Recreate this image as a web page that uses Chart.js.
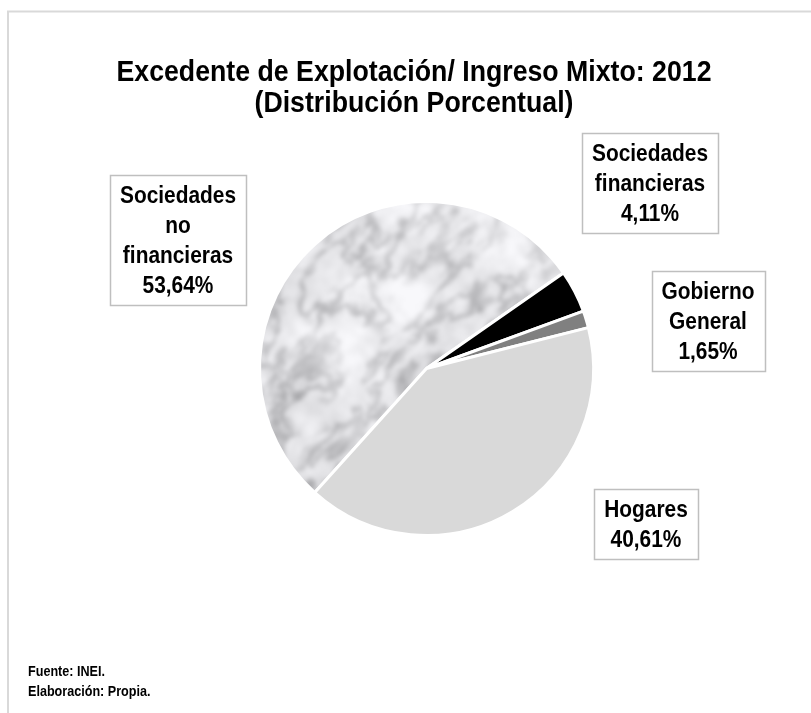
<!DOCTYPE html>
<html>
<head>
<meta charset="utf-8">
<script src="https://cdn.jsdelivr.net/npm/chart.js@4.4.1/dist/chart.umd.min.js"></script>
<style>
  html, body { margin: 0; padding: 0; background: #ffffff; }
  #chart { display: block; }
</style>
</head>
<body>
<canvas id="chart" width="811" height="713"></canvas>
<script>
// Excedente de Explotación / Ingreso Mixto 2012 - pie chart with boxed labels

const titleLines = ['Excedente de Explotación/ Ingreso Mixto: 2012', '(Distribución Porcentual)'];
const categories = ['Sociedades no financieras', 'Sociedades financieras', 'Gobierno General', 'Hogares'];
const labelLines = [['Sociedades', 'no', 'financieras'], ['Sociedades', 'financieras'], ['Gobierno', 'General'], ['Hogares']];
const shares = [53.64, 4.11, 1.65, 40.61];
const footerLines = ['Fuente: INEI.', 'Elaboración: Propia.'];

// label box centres (layout only, like manually placed Excel data labels)
const labelBoxes = [
  { x: 178, y: 240 },
  { x: 650, y: 183 },
  { x: 708, y: 321 },
  { x: 646, y: 524 }
];

const FONT = '"Liberation Sans", Arial, sans-serif';

// deterministic hash based value noise for the marble fill
function hash2(ix, iy) {
  let h = (Math.imul(ix, 374761393) + Math.imul(iy, 668265263)) | 0;
  h = Math.imul(h ^ (h >>> 13), 1274126177);
  h ^= h >>> 16;
  return (h >>> 0) / 4294967296;
}

function noise(x, y) {
  const ix = Math.floor(x), iy = Math.floor(y);
  const fx = x - ix, fy = y - iy;
  const ux = fx * fx * (3 - 2 * fx), uy = fy * fy * (3 - 2 * fy);
  const a = hash2(ix, iy), b = hash2(ix + 1, iy);
  const c = hash2(ix, iy + 1), d = hash2(ix + 1, iy + 1);
  return a + (b - a) * ux + (c - a) * uy + (a - b - c + d) * ux * uy;
}

function fbm(x, y, oct) {
  let sum = 0, amp = 0.5, norm = 0, f = 1;
  for (let i = 0; i < oct; i++) {
    sum += amp * noise(x * f, y * f);
    norm += amp;
    amp *= 0.55;
    f *= 2.03;
  }
  return sum / norm;
}

function makeMarble(w, h) {
  const c = document.createElement('canvas');
  c.width = w; c.height = h;
  const g = c.getContext('2d');
  const img = g.createImageData(w, h);
  const px = img.data;
  for (let y = 0; y < h; y++) {
    for (let x = 0; x < w; x++) {
      const i = (y * w + x) * 4;
      if (x < 240 || x > 615 || y < 180 || y > 560) {
        px[i] = px[i + 1] = px[i + 2] = 225; px[i + 3] = 255;
        continue;
      }
      // mottled grey network, slightly stretched along the diagonal
      const a = (x - y) * 0.7071, b = (x + y) * 0.7071;
      const wx = fbm(a * 0.02 + 3.1, b * 0.03 + 7.7, 3);
      const wy = fbm(a * 0.02 + 11.3, b * 0.03 + 1.9, 3);
      const t = fbm(a * 0.03 + wx * 1.6, b * 0.05 + wy * 1.6, 4);
      const vein = Math.abs(t - 0.5);
      let dark = Math.max(0, 1 - vein / 0.16);
      dark = dark * dark;
      const blot = fbm(x * 0.02 + 50, y * 0.02 + 20, 4);
      const fine = fbm(x * 0.1 + 9, y * 0.1 + 4, 3);
      let v = 234 - 60 * dark * (0.3 + blot) - 45 * (blot - 0.5) - 26 * (fine - 0.5);
      v = Math.max(150, Math.min(248, v));
      px[i] = v; px[i + 1] = v; px[i + 2] = Math.min(255, v + 3); px[i + 3] = 255;
    }
  }
  g.putImageData(img, 0, 0);
  // soften it, the reference texture is a blurry photo
  const c2 = document.createElement('canvas');
  c2.width = w; c2.height = h;
  const g2 = c2.getContext('2d');
  g2.filter = 'blur(2px)';
  g2.drawImage(c, 0, 0);
  return g2.createPattern(c2, 'no-repeat');
}

function narrowText(ctx, text, x, y, size, scaleX) {
  ctx.save();
  ctx.translate(x, y);
  ctx.scale(scaleX, 1);
  ctx.font = 'bold ' + size + 'px ' + FONT;
  ctx.fillText(text, 0, 0);
  ctx.restore();
}

function narrowWidth(ctx, text, size, scaleX) {
  ctx.save();
  ctx.font = 'bold ' + size + 'px ' + FONT;
  const w = ctx.measureText(text).width * scaleX;
  ctx.restore();
  return w;
}

function pct(v) {
  return v.toFixed(2).replace('.', ',') + '%';
}

const decorPlugin = {
  id: 'decor',
  beforeDraw(chart) {
    const ctx = chart.ctx;
    ctx.save();
    ctx.fillStyle = '#ffffff';
    ctx.fillRect(0, 0, chart.width, chart.height);
    // outer frame, only left and top edges fall inside the picture
    ctx.strokeStyle = '#d9d9d9';
    ctx.lineWidth = 2;
    ctx.beginPath();
    ctx.moveTo(8, chart.height + 5);
    ctx.lineTo(8, 11.5);
    ctx.lineTo(chart.width + 5, 11.5);
    ctx.stroke();
    ctx.restore();
  },
  afterDraw(chart) {
    const ctx = chart.ctx;
    ctx.save();
    ctx.fillStyle = '#000000';
    ctx.textAlign = 'center';
    ctx.textBaseline = 'middle';

    narrowText(ctx, titleLines[0], 414, 73, 30, 0.89);
    narrowText(ctx, titleLines[1], 414, 104, 30, 0.89);

    const lineH = 30, size = 24, sx = 0.87;
    shares.forEach((v, i) => {
      const lines = labelLines[i].concat([pct(v)]);
      const wMax = Math.max(...lines.map(t => narrowWidth(ctx, t, size, sx)));
      const bw = Math.round(wMax + 20);
      const bh = lines.length * lineH + 10;
      const cx = labelBoxes[i].x, cy = labelBoxes[i].y;
      const x0 = Math.round(cx - bw / 2) + 0.5, y0 = Math.round(cy - bh / 2) + 0.5;
      ctx.fillStyle = '#ffffff';
      ctx.fillRect(x0, y0, bw, bh);
      ctx.strokeStyle = '#bfbfbf';
      ctx.lineWidth = 1.5;
      ctx.strokeRect(x0, y0, bw, bh);
      ctx.fillStyle = '#000000';
      lines.forEach((t, k) => {
        narrowText(ctx, t, cx, cy - (lines.length - 1) * lineH / 2 + k * lineH + 1, size, sx);
      });
    });

    ctx.textAlign = 'left';
    footerLines.forEach((t, k) => {
      narrowText(ctx, t, 28, 672 + k * 20, 14, 0.9);
    });
    ctx.restore();
  }
};

const marble = makeMarble(811, 713);

new Chart(document.getElementById('chart'), {
  type: 'pie',
  data: {
    labels: categories,
    datasets: [{
      data: shares,
      backgroundColor: [marble, '#000000', '#808080', '#d9d9d9'],
      borderColor: '#ffffff',
      borderWidth: 3
    }]
  },
  options: {
    responsive: false,
    devicePixelRatio: 1,
    animation: false,
    events: [],
    rotation: 222,
    layout: { padding: { left: 258, right: 216, top: 200, bottom: 176 } },
    plugins: {
      legend: { display: false },
      tooltip: { enabled: false },
      title: { display: false }
    }
  },
  plugins: [decorPlugin]
});
</script>
</body>
</html>
